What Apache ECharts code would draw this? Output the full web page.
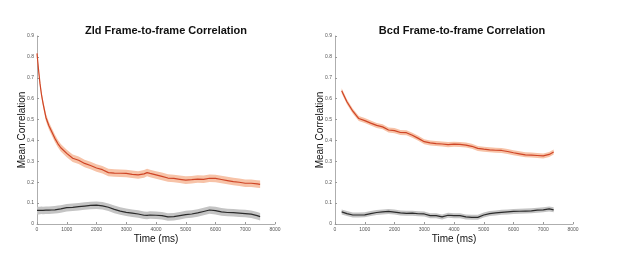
<!DOCTYPE html>
<html><head><meta charset="utf-8">
<script src="https://cdn.jsdelivr.net/npm/echarts@6/dist/echarts.min.js"></script>
<style>html,body{margin:0;padding:0;background:#fff}#c{width:617px;height:267px}</style>
</head><body><div id="c"></div>
<script>
// Zld panel
var zldX = [0,50,100,150,200,300,400,500,600,700,800,1000,1200,1400,1600,1800,2000,2200,2400,2600,2800,3000,3200,3400,3600,3700,3800,4000,4200,4400,4600,4800,5000,5200,5400,5600,5800,6000,6200,6400,6600,6800,7000,7200,7400,7500];
var zldStim = [0.817,0.74,0.673,0.62,0.58,0.51,0.47,0.44,0.41,0.385,0.365,0.338,0.315,0.305,0.29,0.28,0.268,0.26,0.246,0.244,0.243,0.242,0.238,0.235,0.24,0.246,0.242,0.235,0.228,0.22,0.218,0.214,0.21,0.212,0.215,0.214,0.219,0.218,0.213,0.208,0.203,0.2,0.195,0.195,0.192,0.19];
var zldStimErr = [0.01,0.012,0.014,0.015,0.016,0.018,0.018,0.018,0.018,0.018,0.018,0.018,0.018,0.018,0.018,0.018,0.018,0.018,0.018,0.018,0.018,0.018,0.018,0.018,0.018,0.018,0.018,0.018,0.018,0.018,0.018,0.018,0.018,0.018,0.018,0.018,0.018,0.018,0.018,0.018,0.018,0.018,0.018,0.018,0.018,0.018];
var zldCtrl = [0.065,0.064,0.065,0.066,0.065,0.066,0.066,0.067,0.068,0.07,0.072,0.078,0.08,0.083,0.086,0.089,0.09,0.087,0.08,0.07,0.062,0.056,0.052,0.048,0.042,0.041,0.043,0.042,0.04,0.034,0.035,0.04,0.045,0.048,0.053,0.06,0.067,0.064,0.058,0.055,0.054,0.052,0.05,0.047,0.04,0.035];
var zldCtrlErr = [0.018,0.018,0.018,0.018,0.018,0.018,0.018,0.018,0.018,0.018,0.018,0.018,0.018,0.018,0.018,0.018,0.018,0.018,0.018,0.018,0.018,0.018,0.018,0.018,0.018,0.018,0.018,0.018,0.018,0.018,0.018,0.018,0.018,0.018,0.018,0.018,0.018,0.018,0.018,0.018,0.018,0.018,0.018,0.018,0.018,0.018];
// Bcd panel
var bcdX = [224,400,600,800,1000,1200,1400,1600,1800,2000,2200,2400,2600,2800,3000,3200,3400,3600,3800,4000,4200,4400,4600,4800,5000,5200,5400,5600,5800,6000,6200,6400,6600,6800,7000,7200,7350];
var bcdStim = [0.638,0.585,0.54,0.505,0.495,0.483,0.472,0.465,0.45,0.447,0.438,0.437,0.425,0.41,0.394,0.388,0.385,0.383,0.38,0.382,0.381,0.378,0.372,0.362,0.358,0.355,0.353,0.352,0.347,0.341,0.336,0.331,0.33,0.328,0.326,0.333,0.345];
var bcdStimErr = [0.012,0.012,0.012,0.012,0.012,0.012,0.012,0.012,0.012,0.012,0.012,0.012,0.012,0.012,0.012,0.012,0.012,0.012,0.012,0.012,0.012,0.012,0.012,0.012,0.012,0.012,0.012,0.012,0.012,0.012,0.012,0.012,0.012,0.012,0.012,0.012,0.012];
var bcdCtrl = [0.058,0.05,0.043,0.043,0.044,0.05,0.055,0.058,0.06,0.057,0.053,0.051,0.052,0.049,0.048,0.04,0.04,0.034,0.042,0.04,0.04,0.034,0.032,0.032,0.043,0.05,0.053,0.056,0.058,0.06,0.061,0.062,0.063,0.066,0.068,0.072,0.068];
var bcdCtrlErr = [0.012,0.012,0.012,0.012,0.012,0.012,0.012,0.012,0.012,0.012,0.012,0.012,0.012,0.012,0.012,0.012,0.012,0.012,0.012,0.012,0.012,0.012,0.012,0.012,0.012,0.012,0.012,0.012,0.012,0.012,0.012,0.012,0.012,0.012,0.012,0.012,0.012];
var titles = ['Zld Frame-to-frame Correlation','Bcd Frame-to-frame Correlation'];
var xTicks = [0,1000,2000,3000,4000,5000,6000,7000,8000];
var yTicks = [0,0.1,0.2,0.3,0.4,0.5,0.6,0.7,0.8,0.9];

var RED = '#cf4526', RED_BAND = '#f7c3a8', GRAY = '#2b2b2b', GRAY_BAND = '#c4c4c4';
var FONT = 'Liberation Sans';

function band(idx, xs, vals, errs, color) {
  var data = xs.map(function(x,i){return [x, vals[i]-errs[i], vals[i]+errs[i]];});
  return {
    type:'custom', xAxisIndex:idx, yAxisIndex:idx, data:data, silent:true, z:1,
    encode:{x:0, y:[1,2]},
    renderItem:function(params, api){
      if (params.dataIndex !== 0) return null;
      var up = [], lo = [];
      for (var i=0;i<data.length;i++){
        up.push(api.coord([data[i][0], data[i][2]]));
        lo.push(api.coord([data[i][0], data[i][1]]));
      }
      var pts = up.concat(lo.reverse());
      return {type:'polygon', shape:{points:pts}, style:{fill:color, stroke:null}};
    }
  };
}
function mainLine(idx, xs, vals, color) {
  return {type:'line', xAxisIndex:idx, yAxisIndex:idx, data:xs.map(function(x,i){return [x, vals[i]];}), symbol:'none', lineStyle:{color:color,width:1.2}, z:3};
}
function xAx(idx) {
  return {gridIndex:idx, type:'value', min:xTicks[0], max:xTicks[xTicks.length-1], interval:1000,
    name:'Time (ms)', nameLocation:'middle', nameGap:10, nameMoveOverlap:false, nameTextStyle:{fontFamily:FONT,fontSize:10,color:'#111'},
    axisLine:{show:true,lineStyle:{color:'#999',width:0.8}}, axisTick:{show:true,inside:true,length:2,lineStyle:{color:'#999'}},
    axisLabel:{fontFamily:FONT,fontSize:5,color:'#555',margin:3,formatter:function(v){return String(v);}}, splitLine:{show:false}};
}
function yAx(idx) {
  return {gridIndex:idx, type:'value', min:yTicks[0], max:yTicks[yTicks.length-1], interval:0.1,
    name:'Mean Correlation', nameLocation:'middle', nameGap:10, nameMoveOverlap:false, nameTextStyle:{fontFamily:FONT,fontSize:10,color:'#111'},
    axisLine:{show:true,lineStyle:{color:'#999',width:0.8}}, axisTick:{show:true,inside:true,length:2,lineStyle:{color:'#999'}},
    axisLabel:{fontFamily:FONT,fontSize:5,color:'#555',margin:3,formatter:function(v){return String(Math.round(v*10)/10);}}, splitLine:{show:false}};
}
var series = [
  band(0, zldX, zldStim, zldStimErr, RED_BAND),
  band(0, zldX, zldCtrl, zldCtrlErr, GRAY_BAND),
  mainLine(0, zldX, zldStim, RED), mainLine(0, zldX, zldCtrl, GRAY),
  band(1, bcdX, bcdStim, bcdStimErr, RED_BAND),
  band(1, bcdX, bcdCtrl, bcdCtrlErr, GRAY_BAND),
  mainLine(1, bcdX, bcdStim, RED), mainLine(1, bcdX, bcdCtrl, GRAY)
];
var chart = echarts.init(document.getElementById('c'), null, {renderer:'canvas'});
chart.setOption({
  animation:false,
  backgroundColor:'#fff',
  title:[
    {text:titles[0], left:161, top:20, textAlign:'center', textStyle:{fontFamily:FONT,fontSize:11,fontWeight:'bold',color:'#111'}},
    {text:titles[1], left:457, top:20, textAlign:'center', textStyle:{fontFamily:FONT,fontSize:11,fontWeight:'bold',color:'#111'}}
  ],
  grid:[
    {left:37, width:238, top:36, height:188},
    {left:335, width:238, top:36, height:188}
  ],
  xAxis:[xAx(0), xAx(1)],
  yAxis:[yAx(0), yAx(1)],
  series:series
});
</script></body></html>
